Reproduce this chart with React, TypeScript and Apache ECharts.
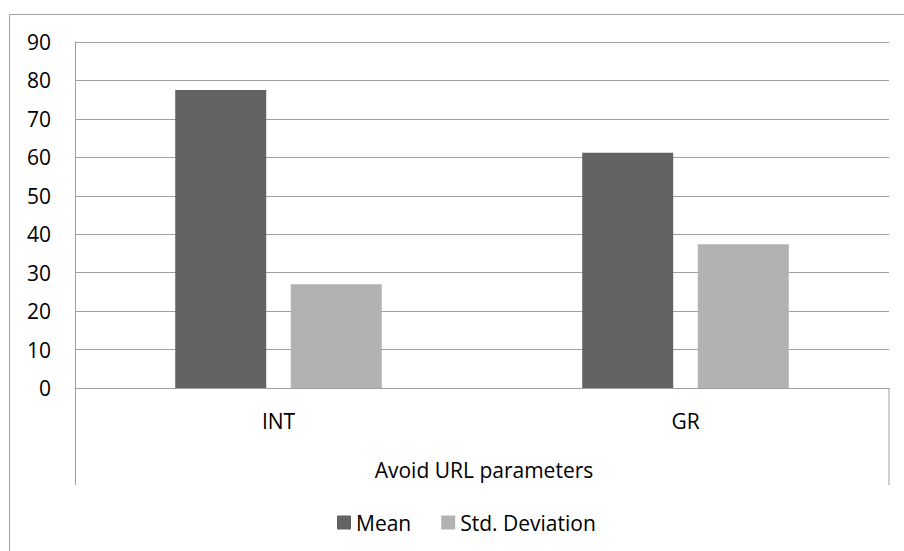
import React, { useEffect, useRef } from "react";
import * as echarts from "echarts";

const categories = ["INT", "GR"];
const meanValues = [77.5, 61.2];
const stdValues = [27.0, 37.4];
const seriesNames = ["Mean", "Std. Deviation"];
const groupLabel = "Avoid URL parameters";

const FONT = "Open Sans";
const FS = 21;

export default function App() {
  const ref = useRef<HTMLDivElement>(null);
  useEffect(() => {
    if (!ref.current) return;
    const chart = echarts.init(ref.current, undefined, { renderer: "svg" });
    chart.setOption({
      animation: false,
      backgroundColor: "#ffffff",
      textStyle: { fontFamily: FONT },
      grid: { left: 75, right: 15, top: 42, bottom: 163, containLabel: false },
      legend: {
        left: 332,
        top: 507,
        itemWidth: 14,
        itemHeight: 14,
        itemGap: 30,
        icon: "rect",
        textStyle: { fontFamily: FONT, fontSize: FS, color: "#000" },
        data: seriesNames,
      },
      xAxis: {
        type: "category",
        data: categories,
        axisLine: { show: true, lineStyle: { color: "#a0a0a0", width: 1 } },
        axisTick: { show: false },
        axisLabel: { margin: 22, fontFamily: FONT, fontSize: FS, color: "#000" },
      },
      yAxis: {
        type: "value",
        min: 0,
        max: 90,
        interval: 10,
        axisLine: { show: true, lineStyle: { color: "#a0a0a0", width: 1 } },
        axisTick: { show: false },
        splitLine: { show: true, lineStyle: { color: "#a0a0a0", width: 1 } },
        axisLabel: { margin: 24, fontFamily: FONT, fontSize: FS, color: "#000" },
      },
      series: [
        {
          name: seriesNames[0],
          type: "bar",
          data: meanValues,
          barWidth: 91,
          barGap: "27%",
          itemStyle: { color: "#636363" },
        },
        {
          name: seriesNames[1],
          type: "bar",
          data: stdValues,
          barWidth: 91,
          barGap: "27%",
          itemStyle: { color: "#b2b2b2" },
        },
      ],
      graphic: [
        {
          type: "rect",
          shape: { x: 9.5, y: 14.5, width: 1200, height: 1200 },
          style: { fill: "none", stroke: "#a0a0a0", lineWidth: 1 },
          silent: true,
        },
        {
          type: "line",
          shape: { x1: 75.5, y1: 388, x2: 75.5, y2: 485 },
          style: { stroke: "#a0a0a0", lineWidth: 1 },
        },
        {
          type: "line",
          shape: { x1: 889, y1: 388, x2: 889, y2: 485 },
          style: { stroke: "#a0a0a0", lineWidth: 1 },
        },
        {
          type: "text",
          x: 484,
          y: 470,
          style: {
            text: groupLabel,
            fontFamily: FONT,
            fontSize: FS,
            fill: "#000",
            align: "center",
            verticalAlign: "middle",
          },
        },
      ],
    });
    return () => chart.dispose();
  }, []);
  return (
    <div
      ref={ref}
      style={{ position: "absolute", left: 0, top: 0, width: 904, height: 551 }}
    />
  );
}
